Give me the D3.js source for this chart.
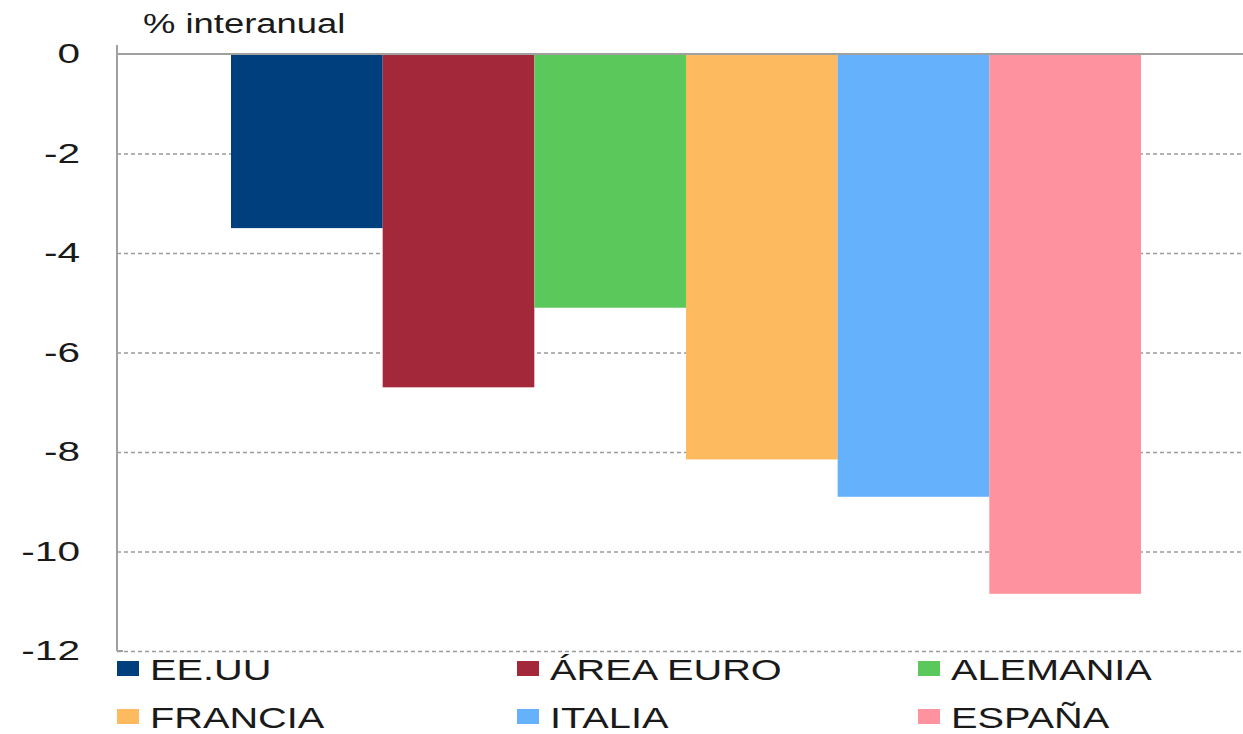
<!DOCTYPE html>
<html lang="es">
<head>
    <meta charset="UTF-8">
    <script src="https://d3js.org/d3.v7.min.js"></script>
    <title>% interanual</title>
    <style>
        body { margin: 0; background: #fff; }
        text { font-family: "Liberation Sans", Arial, sans-serif; fill: #1a1a1a; }
    </style>
</head>
<body>
    <div id="chart"></div>
    <script>
        // Data
        const countries = ["EE.UU", "ÁREA EURO", "ALEMANIA", "FRANCIA", "ITALIA", "ESPAÑA"];
        const values = [-3.5, -6.7, -5.1, -8.15, -8.9, -10.85];
        const colors = ["#003f7e", "#a3293a", "#5bc85b", "#fdba5f", "#65b1fb", "#fe929e"];
        const yTicks = [0, -2, -4, -6, -8, -10, -12];

        const width = 1243;
        const height = 734;

        const svg = d3.select("#chart")
            .append("svg")
            .attr("width", width)
            .attr("height", height);

        // Scales
        const x = d3.scaleBand()
            .domain(countries)
            .range([231, 1141])
            .padding(0);

        const y = d3.scaleLinear()
            .domain([0, -12])
            .range([54, 651]);

        const axisX = 117;

        // Gridlines (dashed)
        svg.append("g")
            .attr("class", "grid")
            .attr("transform", `translate(${axisX},0)`)
            .call(d3.axisRight(y).tickValues(yTicks.filter(d => d !== 0)).tickSize(width - axisX).tickFormat(""))
            .call(g => g.select(".domain").remove())
            .call(g => g.selectAll("line")
                .attr("stroke", "#9a9a9a")
                .attr("stroke-width", 1.5)
                .attr("stroke-dasharray", "4,3"));

        // Bars
        svg.append("g")
            .selectAll("rect")
            .data(countries)
            .join("rect")
            .attr("x", d => x(d))
            .attr("width", x.bandwidth())
            .attr("y", y(0))
            .attr("height", (d, i) => y(values[i]) - y(0))
            .attr("fill", (d, i) => colors[i]);

        // Zero line
        svg.append("line")
            .attr("x1", axisX)
            .attr("x2", width)
            .attr("y1", y(0))
            .attr("y2", y(0))
            .attr("stroke", "#a0a0a0")
            .attr("stroke-width", 2);

        // Y axis
        const sx = 1.45;
        svg.append("g")
            .attr("class", "y-axis")
            .attr("transform", `translate(${axisX},0)`)
            .call(d3.axisLeft(y).tickValues(yTicks).tickSize(0).tickFormat(d => String(d)))
            .call(g => g.select(".domain").remove())
            .call(g => g.selectAll("text")
                .attr("x", -37 / sx)
                .attr("transform", `scale(${sx},1)`)
                .attr("font-size", 28)
                .attr("font-family", "Liberation Sans, Arial, sans-serif")
                .attr("fill", "#1a1a1a"));

        svg.append("line")
            .attr("x1", axisX)
            .attr("x2", axisX)
            .attr("y1", 45)
            .attr("y2", y(-12))
            .attr("stroke", "#a0a0a0")
            .attr("stroke-width", 2);

        svg.append("line")
            .attr("x1", axisX)
            .attr("x2", axisX + 6)
            .attr("y1", y(-12))
            .attr("y2", y(-12))
            .attr("stroke", "#a0a0a0")
            .attr("stroke-width", 2);

        // Unit label
        svg.append("text")
            .attr("transform", "translate(143,33) scale(1.3,1)")
            .attr("font-size", 28)
            .text("% interanual");

        // Legend
        const legendCols = [117, 517, 918];
        const legendRows = [669, 717];
        const legend = svg.append("g")
            .selectAll("g")
            .data(countries)
            .join("g")
            .attr("transform", (d, i) => `translate(${legendCols[i % 3]},${legendRows[Math.floor(i / 3)]})`);

        legend.append("rect")
            .attr("x", 0)
            .attr("y", -8)
            .attr("width", 22)
            .attr("height", 15)
            .attr("fill", (d, i) => colors[i]);

        legend.append("text")
            .attr("transform", "translate(33,11) scale(1.37,1)")
            .attr("font-size", 29)
            .text(d => d);
    </script>
</body>
</html>
